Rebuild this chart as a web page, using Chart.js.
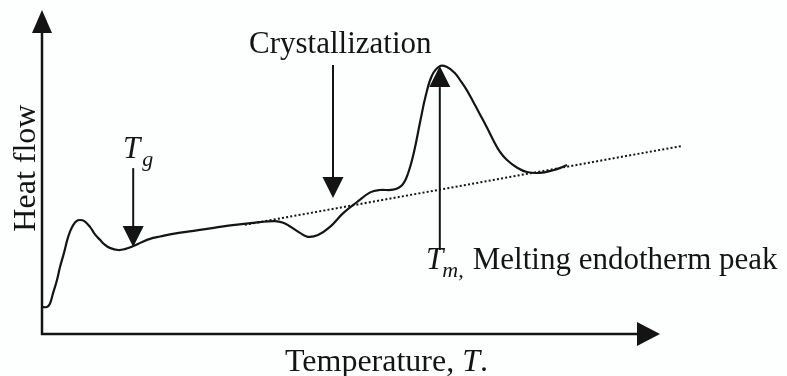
<!DOCTYPE html>
<html>
<head>
<meta charset="utf-8">
<script src="https://cdn.jsdelivr.net/npm/chart.js@4.4.1/dist/chart.umd.min.js"></script>
<style>
  html, body { margin: 0; padding: 0; background: #fdfefe; }
  #wrap { width: 787px; height: 376px; position: relative; }
</style>
</head>
<body>
<div id="wrap"><canvas id="dsc"></canvas></div>
<script>
// Schematic DSC trace, arbitrary units
var temperature = [0, 0.8, 1.3, 1.8, 2.5, 3, 3.7, 4.2, 4.7, 5.2, 5.8, 6.3, 7, 8, 8.8, 9.7, 10.5, 11.3,
    12.7, 13.8, 15.2, 16.7, 18, 19.7, 21.8, 26.3, 31.8, 36.3, 38.8, 40.2, 41.3, 43, 44.3, 46, 48,
    50.2, 52.5, 54.7, 56.3, 58.5, 60, 61, 62, 63, 64, 65, 66.3,
    67.5, 68.8, 69.8, 70.8, 72, 73, 74.2, 75.2, 76.3, 77.5, 79.2, 80.8, 83, 85.2, 86.3, 87.5];
var heatFlow = [9, 9, 10, 13.3, 18, 22.3, 27.3, 31.3, 34.3, 36.3, 37.7, 38, 37.7, 35.7, 33.3, 31.3, 29.7, 28.7,
    28, 28.3, 29.3, 30.7, 31.7, 32.5, 33.4, 34.7, 36.3, 37.3, 37.6, 37.1, 35.9, 33.7, 32.4, 33, 35.7,
    40.3, 44, 47.2, 48, 48.1, 49.6, 53.5, 60.7, 70.5, 79.8, 86.2, 89.3,
    89, 87, 84.3, 81.3, 76.9, 73.2, 68.7, 64.7, 60.8, 58, 55.4, 54, 53.7, 54.6, 55.3, 56.3];

// dotted extrapolated baseline
var baselineTemp = [33.8, 106.7];
var baselineHeat = [36.4, 62.7];

// annotation arrows: x, shaft start y, tip y
var tgArrow = [15.2, 55.3, 29];
var crystArrow = [48.5, 89.7, 45.3];
var tmArrow = [66.3, 28, 89.3];

var xAxisEnd = 103;
var yAxisEnd = 108;

var ink = '#141414';
var serif = '"Liberation Serif", "Times New Roman", serif';

function toPoints(xs, ys) {
    return xs.map(function(x, i) { return { x: x, y: ys[i] }; });
}

function arrow(ctx, x1, y1, x2, y2, len, half) {
    var a = Math.atan2(y2 - y1, x2 - x1);
    var bx = x2 - len * Math.cos(a);
    var by = y2 - len * Math.sin(a);
    ctx.beginPath();
    ctx.moveTo(x1, y1);
    ctx.lineTo(bx, by);
    ctx.stroke();
    ctx.beginPath();
    ctx.moveTo(x2, y2);
    ctx.lineTo(bx + half * Math.sin(a), by - half * Math.cos(a));
    ctx.lineTo(bx - half * Math.sin(a), by + half * Math.cos(a));
    ctx.closePath();
    ctx.fill();
}

var annotate = {
    id: 'annotate',
    afterDatasetsDraw: function(chart) {
        var ctx = chart.ctx;
        var sx = chart.scales.x, sy = chart.scales.y;
        var px = function(v) { return sx.getPixelForValue(v); };
        var py = function(v) { return sy.getPixelForValue(v); };

        ctx.save();
        ctx.strokeStyle = ink;
        ctx.fillStyle = ink;
        ctx.lineCap = 'butt';

        // axes
        ctx.lineWidth = 2.5;
        arrow(ctx, px(0), py(0) + 1, px(0), py(yAxisEnd), 23, 10);
        arrow(ctx, px(0) - 1, py(0), px(xAxisEnd), py(0), 23, 12);

        // pointer arrows
        ctx.lineWidth = 2;
        [tgArrow, crystArrow, tmArrow].forEach(function(a) {
            arrow(ctx, px(a[0]), py(a[1]), px(a[0]), py(a[2]), 21, 10.5);
        });

        // labels
        ctx.textBaseline = 'alphabetic';
        ctx.textAlign = 'left';
        ctx.font = '31px ' + serif;
        ctx.fillText('Crystallization', px(34.5), py(93.7));

        var x, y;
        // T_g
        x = px(13.5); y = py(58.7);
        ctx.font = 'italic 31px ' + serif;
        ctx.fillText('T', x, y);
        x += ctx.measureText('T').width + 2;
        ctx.font = 'italic 22px ' + serif;
        ctx.fillText('g', x, y + 8);

        // T_m, Melting endotherm peak
        x = px(64); y = py(21.7);
        ctx.font = 'italic 31px ' + serif;
        ctx.fillText('T', x, y);
        x += ctx.measureText('T').width - 1;
        ctx.font = 'italic 22px ' + serif;
        ctx.fillText('m,', x, y + 8);
        ctx.font = '31px ' + serif;
        ctx.fillText('Melting endotherm peak', px(71.8), y);

        // x axis title
        x = px(40.5); y = py(-12.3);
        ctx.font = '32px ' + serif;
        ctx.fillText('Temperature, ', x, y);
        x += ctx.measureText('Temperature, ').width;
        ctx.font = 'italic 32px ' + serif;
        ctx.fillText('T', x, y);
        x += ctx.measureText('T').width;
        ctx.font = '32px ' + serif;
        ctx.fillText('.', x, y);

        // y axis title
        ctx.translate(px(-1.2), py(55.3));
        ctx.rotate(-Math.PI / 2);
        ctx.textAlign = 'center';
        ctx.font = '32px ' + serif;
        ctx.fillText('Heat flow', 0, 0);

        ctx.restore();
    }
};

new Chart(document.getElementById('dsc'), {
    type: 'line',
    data: {
        datasets: [{
            label: 'Heat flow',
            data: toPoints(temperature, heatFlow),
            borderColor: ink,
            borderWidth: 2.2,
            pointRadius: 0,
            tension: 0.4,
            fill: false
        }, {
            label: 'Baseline',
            data: toPoints(baselineTemp, baselineHeat),
            borderColor: ink,
            borderWidth: 2,
            borderDash: [2, 2.2],
            pointRadius: 0,
            fill: false
        }]
    },
    options: {
        responsive: true,
        maintainAspectRatio: false,
        animation: false,
        layout: { padding: { left: 42, top: 10, right: 85, bottom: 42 } },
        scales: {
            x: { type: 'linear', min: 0, max: 110, display: false },
            y: { type: 'linear', min: 0, max: 108, display: false }
        },
        plugins: {
            legend: { display: false },
            tooltip: { enabled: false }
        }
    },
    plugins: [annotate]
});
</script>
</body>
</html>
